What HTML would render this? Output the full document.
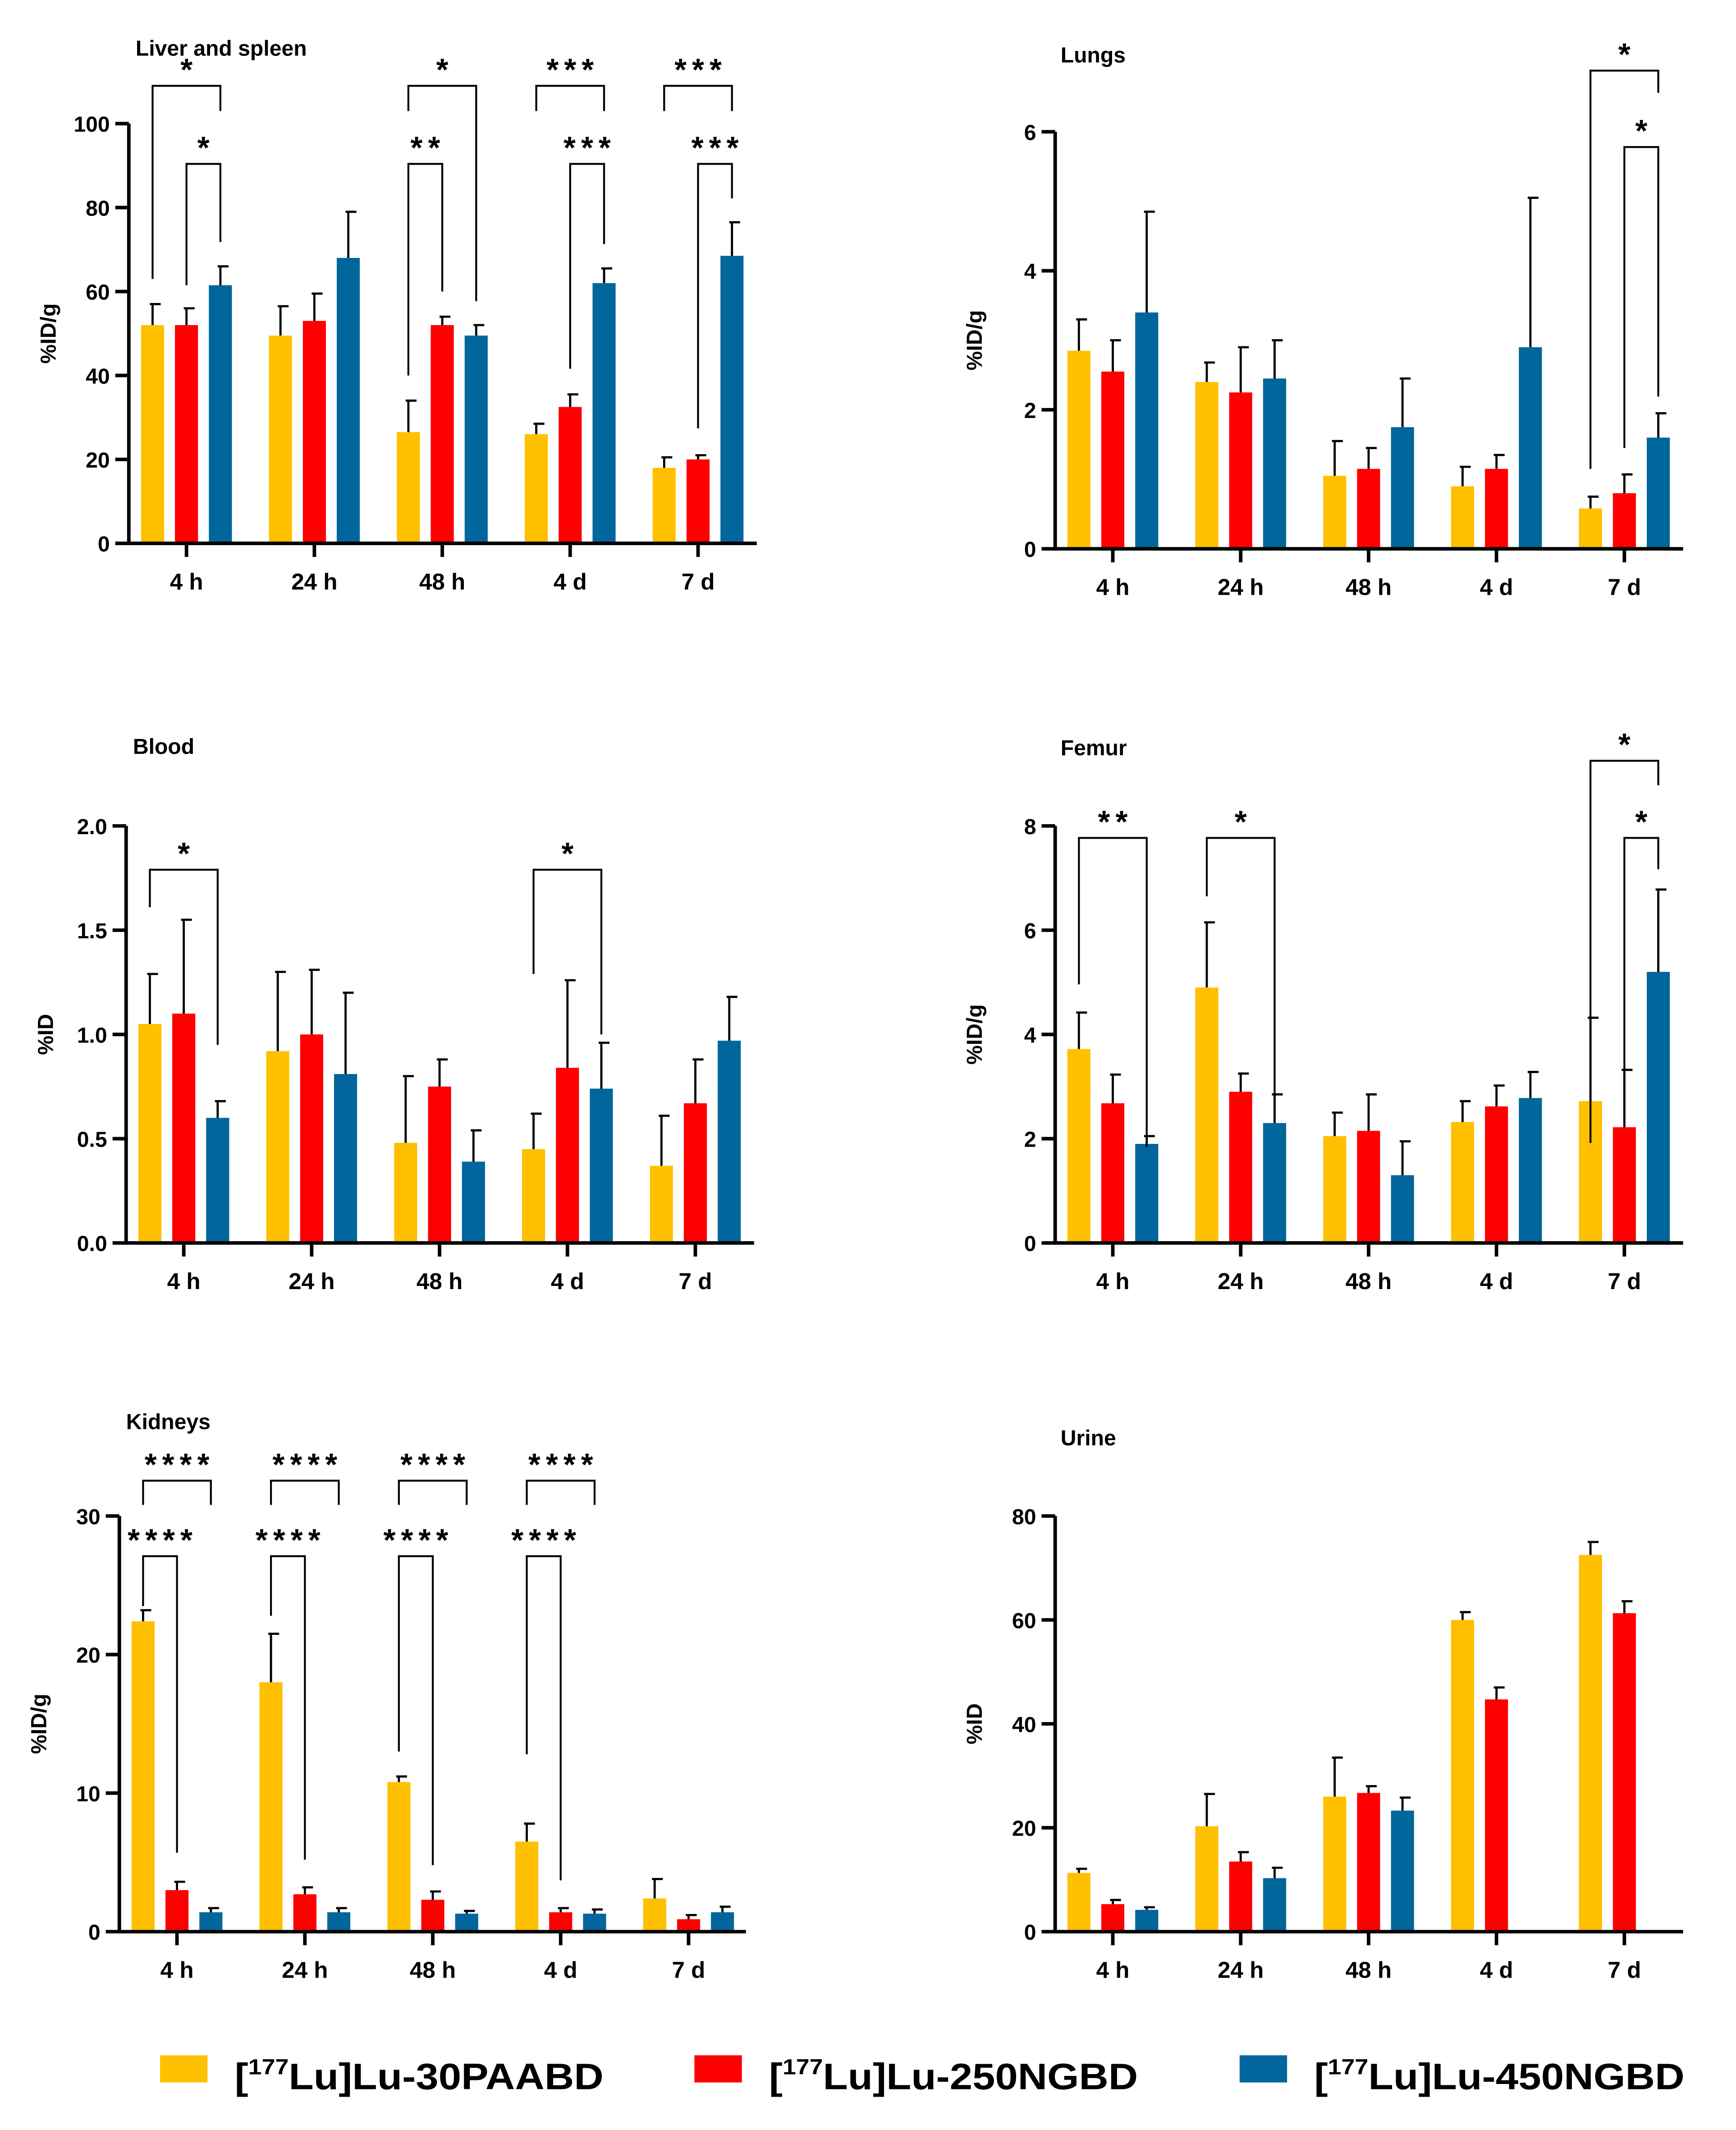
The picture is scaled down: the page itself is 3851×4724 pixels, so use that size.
<!DOCTYPE html>
<html><head><meta charset="utf-8">
<style>
html,body{margin:0;padding:0;background:#fff;}
svg{display:block;}
text{font-family:"Liberation Sans",sans-serif;font-weight:bold;fill:#000;}
</style></head>
<body>
<svg id="fig" width="3851" height="4724" viewBox="0 0 1280 1568" preserveAspectRatio="none" xmlns="http://www.w3.org/2000/svg">
<g id="legend">
<rect x="118" y="1513" width="35" height="20" fill="#FFC000"/>
<text x="173" y="1538" font-size="27" textLength="272" lengthAdjust="spacingAndGlyphs">[<tspan font-size="16" dy="-11">177</tspan><tspan dy="11">Lu]Lu-30PAABD</tspan></text>
<rect x="512" y="1513" width="35" height="20" fill="#FF0000"/>
<text x="567" y="1538" font-size="27" textLength="272" lengthAdjust="spacingAndGlyphs">[<tspan font-size="16" dy="-11">177</tspan><tspan dy="11">Lu]Lu-250NGBD</tspan></text>
<rect x="914" y="1513" width="35" height="20" fill="#00669B"/>
<text x="969" y="1538" font-size="27" textLength="273" lengthAdjust="spacingAndGlyphs">[<tspan font-size="16" dy="-11">177</tspan><tspan dy="11">Lu]Lu-450NGBD</tspan></text>
</g>
</svg>
<script>
const categories = ["4 h","24 h","48 h","4 d","7 d"];
const seriesNames = ["30PAABD","250NGBD","450NGBD"];
const colors = ["#FFC000","#FF0000","#00669B"];

// Liver and spleen
const liverMean = [[52,52,61.5],[49.5,53,68],[26.5,52,49.5],[26,32.5,62],[18,20,68.5]];
const liverErr  = [[5,4,4.5],[7,6.5,11],[7.5,2,2.5],[2.5,3,3.5],[2.5,1,8]];
const liverTicks = [0,20,40,60,80,100];
const liverSig = [[0,0,2,109,63,103,"*"],[0,1,2,90.4,61.5,71.8,"*"],[2,0,2,109,103,57.7,"*"],[2,0,1,90.4,40,60,"**"],[3,0,2,109,103,103,"***"],[3,1,2,90.4,41.6,71.3,"***"],[4,0,2,109,103,103,"***"],[4,1,2,90.4,27.4,82.2,"***"]];

// Lungs
const lungMean = [[2.85,2.55,3.4],[2.4,2.25,2.45],[1.05,1.15,1.75],[0.9,1.15,2.9],[0.58,0.8,1.6]];
const lungErr  = [[0.45,0.45,1.45],[0.28,0.65,0.55],[0.5,0.3,0.7],[0.28,0.2,2.15],[0.17,0.27,0.35]];
const lungTicks = [0,2,4,6];
const lungSig = [[4,0,2,6.88,1.15,6.56,"*"],[4,1,2,5.78,1.45,2.19,"*"]];

// Blood
const bloodMean = [[1.05,1.1,0.6],[0.92,1.0,0.81],[0.48,0.75,0.39],[0.45,0.84,0.74],[0.37,0.67,0.97]];
const bloodErr  = [[0.24,0.45,0.08],[0.38,0.31,0.39],[0.32,0.13,0.15],[0.17,0.42,0.22],[0.24,0.21,0.21]];
const bloodTicks = [0,0.5,1,1.5,2];
const bloodTickLabels = ["0.0","0.5","1.0","1.5","2.0"];
const bloodSig = [[0,0,2,1.79,1.61,0.95,"*"],[3,0,2,1.79,1.29,1.0,"*"]];

// Femur
const femurMean = [[3.72,2.68,1.9],[4.9,2.9,2.3],[2.05,2.15,1.3],[2.32,2.62,2.78],[2.72,2.22,5.2]];
const femurErr  = [[0.7,0.55,0.15],[1.25,0.35,0.55],[0.45,0.7,0.65],[0.4,0.4,0.5],[1.6,1.1,1.58]];
const femurTicks = [0,2,4,6,8];
const femurSig = [[0,0,2,7.77,4.96,1.84,"**"],[1,0,2,7.77,6.65,2.62,"*"],[4,0,2,9.25,1.92,8.78,"*"],[4,1,2,7.77,2.23,7.17,"*"]];

// Kidneys
const kidMean = [[22.4,3.0,1.4],[18,2.7,1.4],[10.8,2.3,1.3],[6.5,1.4,1.3],[2.4,0.9,1.4]];
const kidErr  = [[0.8,0.6,0.3],[3.5,0.5,0.3],[0.4,0.6,0.2],[1.3,0.3,0.3],[1.4,0.3,0.4]];
const kidTicks = [0,10,20,30];
const kidSig = [[0,0,2,32.55,30.8,30.8,"****"],[0,0,1,27.1,23.5,5.7,"****"],[1,0,2,32.55,30.8,30.8,"****"],[1,0,1,27.1,22.8,5.2,"****"],[2,0,2,32.55,30.8,30.8,"****"],[2,0,1,27.1,13,4.8,"****"],[3,0,2,32.55,30.8,30.8,"****"],[3,0,1,27.1,12.8,3.7,"****"]];

// Urine
const urineMean = [[11.3,5.3,4.2],[20.3,13.5,10.3],[26,26.7,23.3],[60,44.7,null],[72.5,61.3,null]];
const urineErr  = [[0.8,0.8,0.5],[6.2,1.8,2],[7.5,1.3,2.5],[1.5,2.3,0],[2.5,2.3,0]];
const urineTicks = [0,20,40,60,80];

const NS="http://www.w3.org/2000/svg";
const svg=document.getElementById('fig');
function mk(tag,attrs,parent){const e=document.createElementNS(NS,tag);for(const k in attrs)e.setAttribute(k,attrs[k]);parent.appendChild(e);return e;}

function panel(cfg){
  const g=mk('g',{},svg);
  
  
  const x0=cfg.x0,x1=cfg.x1,y0=cfg.y0,yT=cfg.yTop,max=cfg.ticks[cfg.ticks.length-1];
  const yS=v=>y0-(v/max)*(y0-yT);
  const cx=i=>x0+42.5+i*94.3;
  const bx=(i,s)=>cx(i)+(s-1)*25;
  const t=mk('text',{x:cfg.tx,y:cfg.ty,'font-size':16},g);t.textContent=cfg.title;
  
  
  const yl=mk('text',{x:0,y:0,'font-size':16,'text-anchor':'middle',transform:`translate(${x0-54},${(y0+yT)/2}) rotate(-90)`},g);yl.textContent=cfg.ylabel;
  
  
  cfg.mean.forEach((row,i)=>row.forEach((v,s)=>{
    if(v===null)return;
    const e=cfg.err[i][s],bxx=bx(i,s),top=yS(v);
    const r=mk('rect',{x:bxx-8.5,y:top,width:17,height:y0-top,fill:colors[s]},g);
    
    
    if(e>0){
      const et=yS(v+e);
      const eb=mk('path',{d:`M${bxx} ${top}V${et}M${bxx-2} ${et}H${bxx+6}`,stroke:'#000','stroke-width':1.6,fill:'none'},g);
      
      
    }
  }));
  const ax=mk('path',{d:`M${x0} ${yT}V${y0}H${x1}`,stroke:'#000','stroke-width':2.6,fill:'none'},g);
  
  
  cfg.ticks.forEach((tv,k)=>{
    const y=yS(tv);
    const tk=mk('path',{d:`M${x0-10} ${y}H${x0}`,stroke:'#000','stroke-width':2.6},g);
    
    
    const tl=mk('text',{x:x0-14,y:y+6,'font-size':16,'text-anchor':'end'},g);
    tl.textContent=cfg.tickLabels?cfg.tickLabels[k]:String(tv);
    
    
  });
  categories.forEach((c,i)=>{
    const tk=mk('path',{d:`M${cx(i)} ${y0}V${y0+10}`,stroke:'#000','stroke-width':2.6},g);
    
    
    const tl=mk('text',{x:cx(i),y:y0+34,'font-size':17,'text-anchor':'middle'},g);tl.textContent=c;
    
    
  });
  (cfg.sig||[]).forEach(sg=>{
    const [i,a,b,top,le,re,lab]=sg;
    const xa=bx(i,a),xb=bx(i,b),yt=yS(top);
    const p=mk('path',{d:`M${xa} ${yS(le)}V${yt}H${xb}V${yS(re)}`,stroke:'#000','stroke-width':1.4,fill:'none'},g);
    
    
    const st=mk('text',{x:(xa+xb)/2+2,y:yt-4,'font-size':23,'text-anchor':'middle','letter-spacing':4},g);st.textContent=lab;
    
    
  });
}

panel({key:'liver',title:'Liver and spleen',tx:100,ty:41,ylabel:'%ID/g',x0:95,x1:558,y0:400,yTop:91,ticks:liverTicks,mean:liverMean,err:liverErr,sig:liverSig});
panel({key:'lungs',title:'Lungs',tx:782,ty:46,ylabel:'%ID/g',x0:778,x1:1241,y0:404,yTop:97,ticks:lungTicks,mean:lungMean,err:lungErr,sig:lungSig});
panel({key:'blood',title:'Blood',tx:98,ty:555,ylabel:'%ID',x0:93,x1:556,y0:915,yTop:608,ticks:bloodTicks,tickLabels:bloodTickLabels,mean:bloodMean,err:bloodErr,sig:bloodSig});
panel({key:'femur',title:'Femur',tx:782,ty:556,ylabel:'%ID/g',x0:778,x1:1241,y0:915,yTop:608,ticks:femurTicks,mean:femurMean,err:femurErr,sig:femurSig});
panel({key:'kidneys',title:'Kidneys',tx:93,ty:1052,ylabel:'%ID/g',x0:88,x1:550,y0:1422,yTop:1116,ticks:kidTicks,mean:kidMean,err:kidErr,sig:kidSig});
panel({key:'urine',title:'Urine',tx:782,ty:1064,ylabel:'%ID',x0:778,x1:1241,y0:1422,yTop:1116,ticks:urineTicks,mean:urineMean,err:urineErr,sig:[]});
</script>
</body></html>
